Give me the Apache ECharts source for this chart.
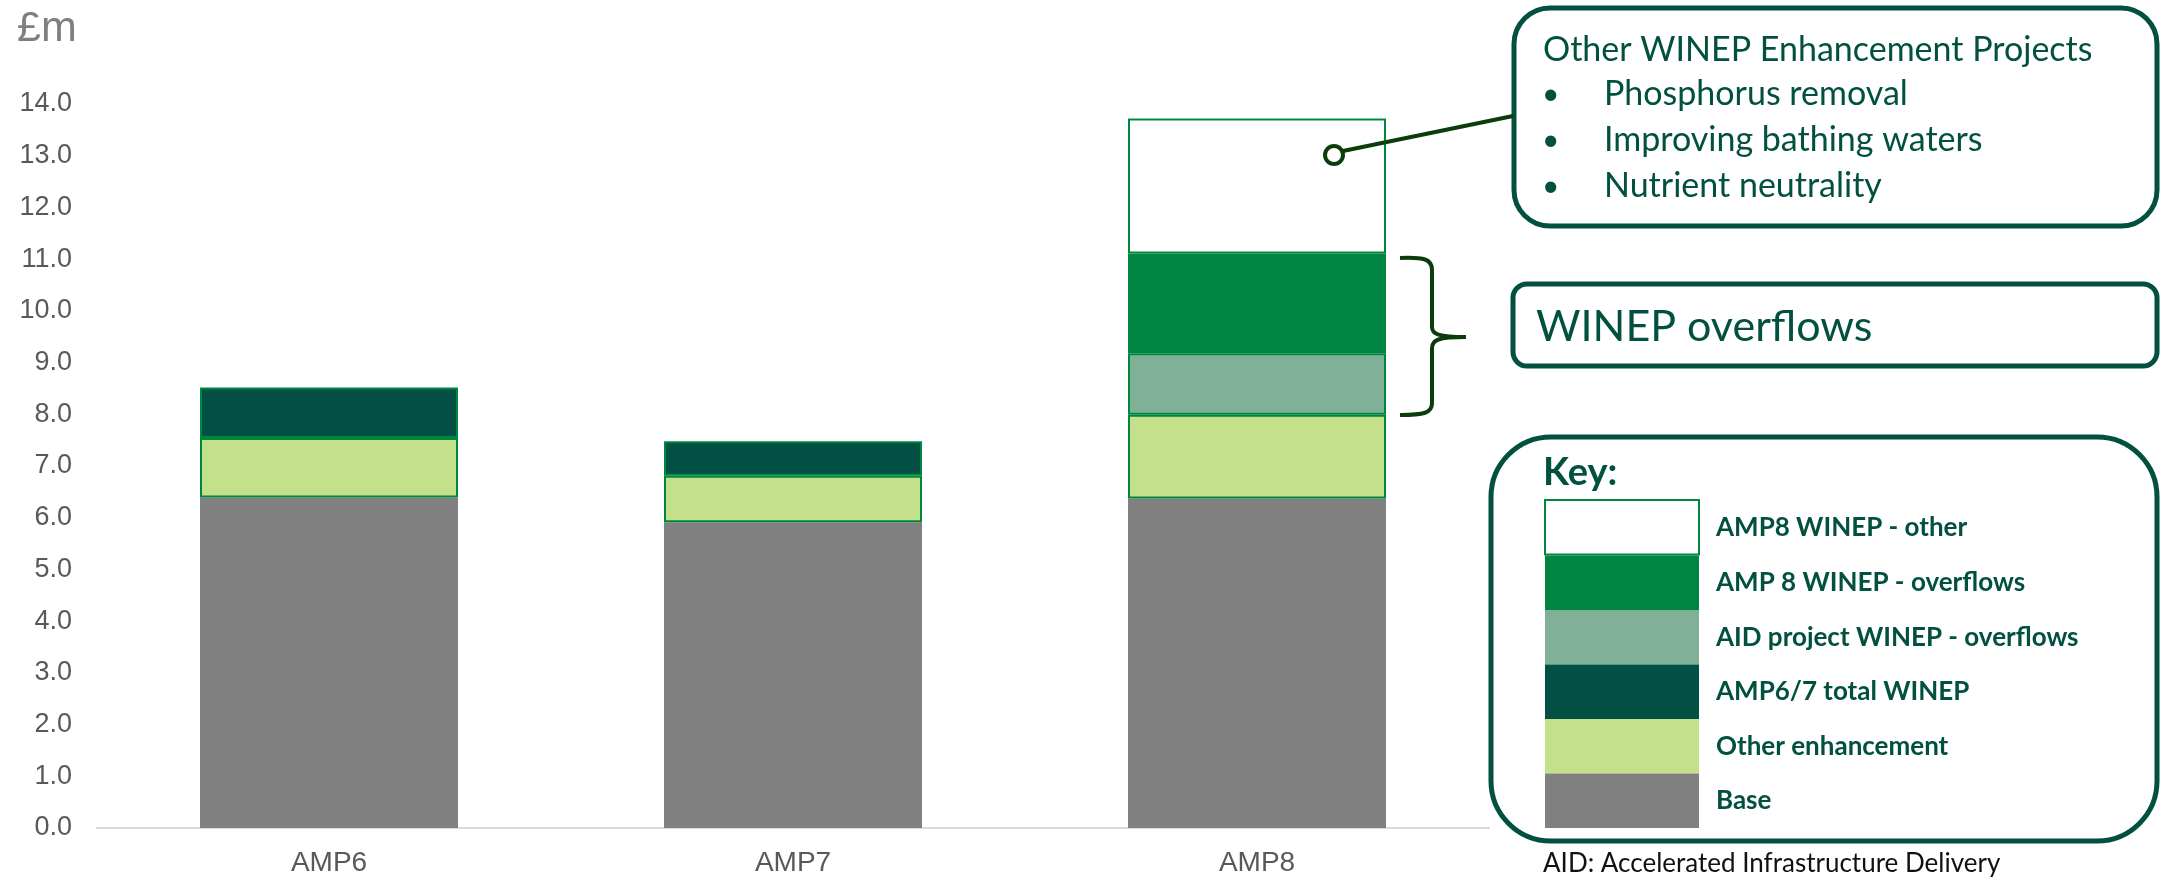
<!DOCTYPE html>
<html>
<head>
<meta charset="utf-8">
<script src="https://cdn.jsdelivr.net/npm/echarts@6/dist/echarts.min.js"></script>
<style>
  html, body { margin: 0; padding: 0; background: #fff; }
  #chart { width: 2161px; height: 879px; }
</style>
</head>
<body>
<div id="chart"></div>
<script>
// values (£m)
const categories = ['AMP6', 'AMP7', 'AMP8'];
const base = [6.39, 5.91, 6.37];
const otherEnhancement = [1.15, 0.90, 1.62];
const amp67Winep = [0.98, 0.67, null];
const aidOverflows = [null, null, 1.19];
const amp8Overflows = [null, null, 1.93];
const amp8Other = [null, null, 2.61];

const keyOrder = ['AMP8 WINEP - other', 'AMP 8 WINEP - overflows', 'AID project WINEP - overflows',
  'AMP6/7 total WINEP', 'Other enhancement', 'Base'];
const bulletLines = ['Phosphorus removal', 'Improving bathing waters', 'Nutrient neutrality'];

const teal = '#02503F';
const edge = '#00873F';
const ink = '#0B3D0B';
const sans = 'Lato, "Noto Sans", sans-serif';

function seg(name, data, color, border) {
  return {
    name: name,
    type: 'bar',
    stack: 'total',
    barWidth: 258,
    data: data,
    itemStyle: {
      color: color,
      borderColor: border ? edge : color,
      borderWidth: border ? 2 : 0
    },
    emphasis: { disabled: true }
  };
}

function curve(x1, y1, c1x, c1y, c2x, c2y, x2, y2) {
  return { type: 'bezierCurve', z: 100,
    shape: { x1: x1, y1: y1, cpx1: c1x, cpy1: c1y, cpx2: c2x, cpy2: c2y, x2: x2, y2: y2 },
    style: { fill: 'none', stroke: ink, lineWidth: 4 } };
}
function seg2(x1, y1, x2, y2) {
  return { type: 'line', z: 100, shape: { x1: x1, y1: y1, x2: x2, y2: y2 },
    style: { stroke: ink, lineWidth: 4 } };
}

let myChart = echarts.init(document.getElementById('chart'));

let graphics = [
  // callout boxes
  { type: 'rect', shape: { x: 1514, y: 8, width: 643, height: 218, r: 36 },
    style: { fill: 'none', stroke: teal, lineWidth: 5 } },
  { type: 'rect', shape: { x: 1513, y: 284, width: 644, height: 82, r: 14 },
    style: { fill: 'none', stroke: teal, lineWidth: 5 } },
  { type: 'rect', shape: { x: 1491, y: 437, width: 666, height: 404, r: 60 },
    style: { fill: 'none', stroke: teal, lineWidth: 5 } },
  { type: 'text', x: 1543, y: 50,
    style: { text: 'Other WINEP Enhancement Projects', font: '34px ' + sans, fill: teal, verticalAlign: 'middle' } },
  { type: 'text', x: 1536, y: 327,
    style: { text: 'WINEP overflows', font: '43px ' + sans, fill: teal, verticalAlign: 'middle' } },
  { type: 'text', x: 1543, y: 473,
    style: { text: 'Key:', font: 'bold 38px ' + sans, fill: teal, verticalAlign: 'middle' } },
  { type: 'text', x: 1543, y: 864,
    style: { text: 'AID: Accelerated Infrastructure Delivery', font: '26px ' + sans, fill: '#111', verticalAlign: 'middle' } },
  // callout line + circle
  seg2(1343, 151, 1513, 116),
  { type: 'circle', z: 100, shape: { cx: 1334, cy: 155, r: 9 },
    style: { fill: '#fff', stroke: ink, lineWidth: 4 } },
  // brace
  curve(1400, 258, 1424, 257, 1432, 259, 1432, 270),
  seg2(1432, 270, 1432, 327),
  curve(1432, 327, 1432, 334, 1438, 337, 1466, 337),
  curve(1466, 337, 1438, 337, 1432, 340, 1432, 348),
  seg2(1432, 348, 1432, 403),
  curve(1432, 403, 1432, 413, 1424, 415, 1400, 415)
];
bulletLines.forEach(function (t, i) {
  graphics.push({ type: 'text', x: 1542, y: 94 + i * 46,
    style: { text: '•', font: '30px ' + sans, fill: teal, verticalAlign: 'middle' } });
  graphics.push({ type: 'text', x: 1604, y: 94 + i * 46,
    style: { text: t, font: '34px ' + sans, fill: teal, verticalAlign: 'middle' } });
});

let option = {
  animation: false,
  title: {
    text: '£m', left: 12, top: 3,
    textStyle: { fontFamily: '"Liberation Sans", Arial, sans-serif', fontSize: 43, fontWeight: 'normal', color: '#7F7F7F' }
  },
  grid: { left: 97, right: 672, top: 104, bottom: 51 },
  legend: {
    orient: 'vertical',
    left: 1544,
    top: 499,
    padding: 0,
    itemWidth: 154,
    itemHeight: 54.5,
    itemGap: 0,
    icon: 'rect',
    selectedMode: false,
    data: keyOrder.map(function (n, i) {
      return i === 0 ? { name: n } : { name: n, itemStyle: { borderWidth: 0 } };
    }),
    textStyle: { fontFamily: sans, fontWeight: 'bold', fontSize: 26, color: teal, padding: [0, 0, 0, 12] }
  },
  xAxis: {
    type: 'category',
    data: categories,
    axisLine: { lineStyle: { color: '#D9D9D9', width: 2 } },
    axisTick: { show: false },
    axisLabel: { fontFamily: '"Liberation Sans", Arial, sans-serif', fontSize: 28, color: '#595959', margin: 21 }
  },
  yAxis: {
    type: 'value',
    min: 0,
    max: 14,
    interval: 1,
    splitLine: { show: false },
    axisLine: { show: false },
    axisTick: { show: false },
    axisLabel: {
      fontFamily: '"Liberation Sans", Arial, sans-serif', fontSize: 27, color: '#595959', margin: 25,
      formatter: function (v) { return v.toFixed(1); }
    }
  },
  graphic: graphics,
  series: [
    seg('Base', base, '#808080', false),
    seg('Other enhancement', otherEnhancement, '#C4E08A', true),
    seg('AMP6/7 total WINEP', amp67Winep, '#024F43', true),
    seg('AID project WINEP - overflows', aidOverflows, '#80B198', true),
    seg('AMP 8 WINEP - overflows', amp8Overflows, '#008542', true),
    seg('AMP8 WINEP - other', amp8Other, '#FFFFFF', true)
  ]
};
myChart.setOption(option, true);
window.addEventListener('resize', function () {
  myChart.resize();
});
</script>
</body>
</html>
